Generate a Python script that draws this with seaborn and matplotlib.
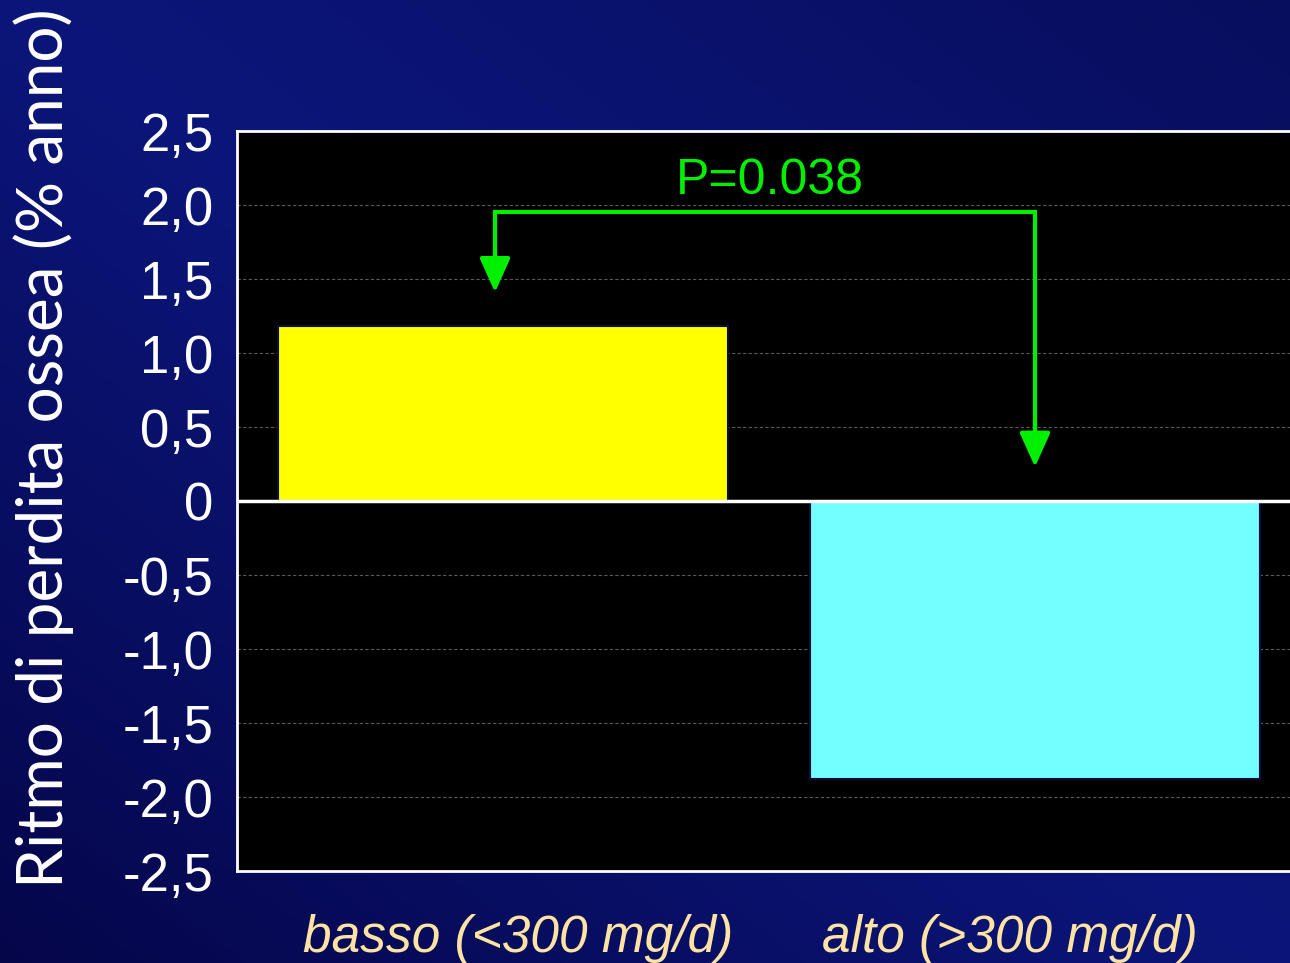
import numpy as np
import pandas as pd
import matplotlib
matplotlib.use("Agg")
import matplotlib.pyplot as plt
import matplotlib.transforms as mtransforms
from matplotlib.colors import LinearSegmentedColormap
import seaborn as sns

# Calcium intake group vs. rate of bone loss (% per year)
categories = ["basso (<300 mg/d)", "alto (>300 mg/d)"]
values = [1.18, -1.88]
bar_colors = ["#FFFF00", "#73FFFF"]
y_ticks = [2.5, 2.0, 1.5, 1.0, 0.5, 0.0, -0.5, -1.0, -1.5, -2.0, -2.5]
y_tick_labels = ["2,5", "2,0", "1,5", "1,0", "0,5", "0",
                 "-0,5", "-1,0", "-1,5", "-2,0", "-2,5"]
p_label = "P=0.038"
y_label = "Ritmo di perdita ossea (% anno)"

sns.set_theme(style="white")
plt.rcParams["font.family"] = ["Liberation Sans", "DejaVu Sans"]

W, H, DPI = 1290, 963, 100
fig = plt.figure(figsize=(W / DPI, H / DPI), dpi=DPI)

# Diagonal navy gradient behind everything
bg = fig.add_axes([0, 0, 1, 1], zorder=0)
gx, gy = np.meshgrid(np.linspace(0, 1, 300), np.linspace(0, 1, 300))
t = gx - gy  # y grows downward in the image
cmap = LinearSegmentedColormap.from_list(
    "navy", [(0.0, "#05064a"), (0.5, "#0b167a"), (1.0, "#080e5e")])
bg.imshow((t + 1) / 2, cmap=cmap, aspect="auto", extent=[0, 1, 0, 1],
          origin="upper", vmin=0, vmax=1)
bg.set_axis_off()

ax = fig.add_axes([237 / W, (H - 871) / H, 1064 / W, 740 / H], zorder=1)
ax.set_facecolor("black")

df = pd.DataFrame({"gruppo": categories, "valore": values})
sns.barplot(data=df, x="gruppo", y="valore", hue="gruppo",
            palette=bar_colors, saturation=1, width=0.845,
            edgecolor="#0a0a3c", linewidth=1.5, legend=False, ax=ax, zorder=3)

ax.set_xlim(-0.5, 1.5)
ax.set_ylim(-2.5, 2.5)
ax.set_yticks(y_ticks)
ax.set_yticklabels(y_tick_labels)
for yt in y_ticks:
    if yt != 0:
        ax.axhline(yt, color="#5a5a5a", lw=0.8, ls=(0, (3, 2)), zorder=1)
ax.axhline(0, color="white", lw=2.5, zorder=4)

ax.tick_params(axis="y", length=0, pad=17, labelsize=38, labelcolor="white")
ax.tick_params(axis="x", length=0, pad=31, labelcolor="#FFE3A3")
shifts = [15, -25]
for lab, dx in zip(ax.get_xticklabels(), shifts):
    lab.set_fontstyle("italic")
    lab.set_fontsize(37)
    lab.set_transform(lab.get_transform() +
                      mtransforms.ScaledTranslation(dx / DPI, 0, fig.dpi_scale_trans))
ax.set_xlabel("")
ax.set_ylabel("")

for side in ("left", "bottom", "top"):
    ax.spines[side].set_color("white")
    ax.spines[side].set_linewidth(2)
ax.spines["right"].set_visible(False)

# Significance bracket between the two groups
green = "#00F000"
x0, x1 = -0.015, 1.0
y_top = 1.95
ax.plot([x0, x0, x1, x1], [1.55, y_top, y_top, 0.40], color=green,
        lw=3, solid_joinstyle="miter", zorder=5, clip_on=False)
arrow_kw = dict(arrowstyle="-|>,head_length=1.0,head_width=0.45",
                mutation_scale=21, color=green, lw=3, shrinkA=0, shrinkB=0)
ax.annotate("", xy=(x0, 1.41), xytext=(x0, 1.70), arrowprops=arrow_kw, zorder=6)
ax.annotate("", xy=(x1, 0.23), xytext=(x1, 0.55), arrowprops=arrow_kw, zorder=6)
ax.text((x0 + x1) / 2 + 0.01, 2.16, p_label, color=green, fontsize=36,
        ha="center", va="center", zorder=6)

fig.text(44 / W, 1 - 448 / H, y_label, rotation=90, color="white",
         fontsize=46, ha="center", va="center", family=["Lato", "DejaVu Sans"])

fig.savefig("out.png", dpi=DPI)
